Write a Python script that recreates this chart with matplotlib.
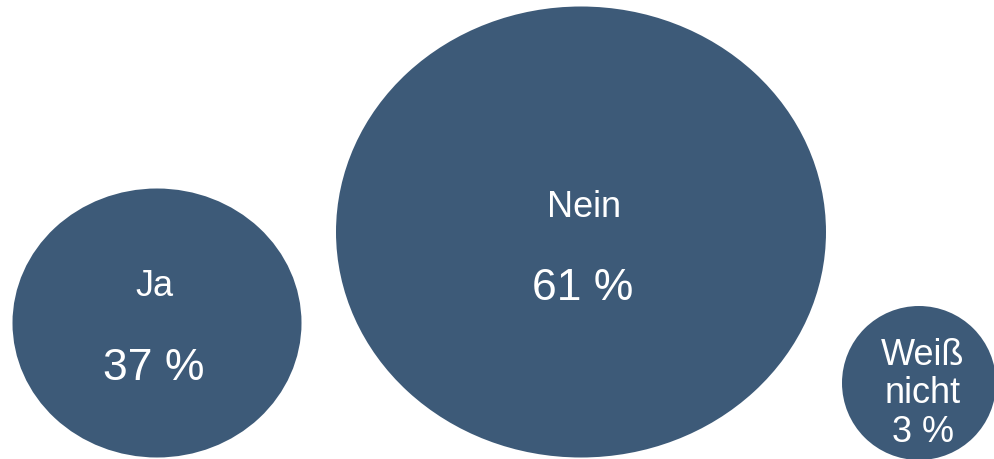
import matplotlib
matplotlib.use('Agg')
import matplotlib.pyplot as plt
from matplotlib.patches import Ellipse

# Survey answers
labels = ["Ja", "Nein", "Weiß nicht"]
values = [37, 61, 3]

# layout (pixels): centre x, centre y, width, height
centres = [(157, 324), (581, 233), (919, 384)]
sizes = [(289, 269), (490, 451), (154, 154)]
color = "#3D5A78"

plt.rcParams['font.family'] = ['Liberation Sans', 'DejaVu Sans']

fig = plt.figure(figsize=(9.94, 4.6), dpi=100)
ax = fig.add_axes([0, 0, 1, 1])
ax.set_xlim(0, 994)
ax.set_ylim(460, 0)
ax.axis('off')

for i in range(len(labels)):
    cx, cy = centres[i]
    w, h = sizes[i]
    ax.add_patch(Ellipse((cx, cy), w, h, facecolor=color, edgecolor='none'))

# big circles: label above, percentage below
ax.text(154, 296, labels[0], color='white', fontsize=26, ha='center', va='baseline')
ax.text(154, 380, f"{values[0]} %", color='white', fontsize=32, ha='center', va='baseline')
ax.text(584, 217, labels[1], color='white', fontsize=26, ha='center', va='baseline')
ax.text(583, 300, f"{values[1]} %", color='white', fontsize=32, ha='center', va='baseline')

# small circle: three stacked lines
lines = labels[2].split(" ") + [f"{values[2]} %"]
for j, line in enumerate(lines):
    ax.text(923, 365 + j * 38.5, line, color='white', fontsize=26, ha='center', va='baseline')

fig.savefig("out.png", dpi=100)
